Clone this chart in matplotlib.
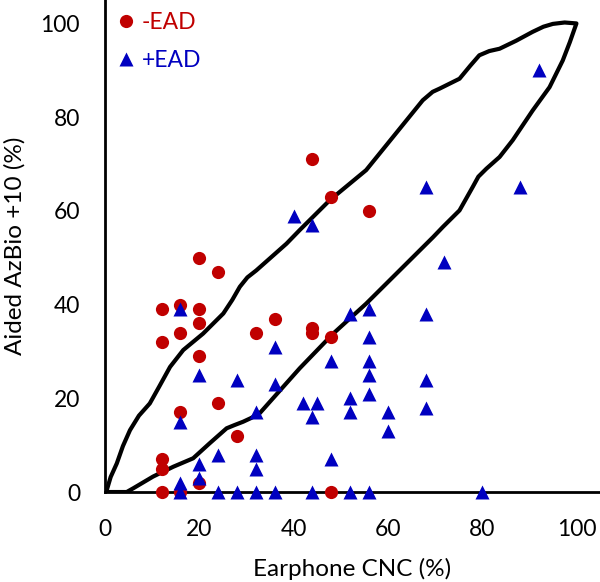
import matplotlib
matplotlib.use("Agg")
import matplotlib.pyplot as plt

plt.rcParams['font.family'] = ['Lato', 'DejaVu Sans']

# -EAD (red circles)
neg_x = [20, 24, 12, 16, 20, 20, 16, 12, 20, 32, 36, 44, 44, 48, 24, 16, 28, 12, 12, 20, 12, 16, 48, 44, 48, 56]
neg_y = [50, 47, 39, 40, 39, 36, 34, 32, 29, 34, 37, 35, 34, 33, 19, 17, 12, 7, 5, 2, 0, 0, 0, 71, 63, 60]

# +EAD (blue triangles)
pos_x = [40, 44, 92, 68, 88, 72, 16, 36, 48, 20, 28, 36, 42, 45, 44, 32, 16, 24, 32, 32, 20, 48, 20, 16,
         16, 24, 28, 32, 36, 44, 52, 56, 80, 52, 56, 68, 56, 56, 56, 68, 56, 52, 52, 60, 68, 60]
pos_y = [59, 57, 90, 65, 65, 49, 39, 31, 28, 25, 24, 23, 19, 19, 16, 17, 15, 8, 8, 5, 6, 7, 3, 2,
         0, 0, 0, 0, 0, 0, 0, 0, 0, 38, 39, 38, 33, 28, 25, 24, 21, 20, 17, 17, 18, 13]

# Boundary (closed loop): upper edge then lower edge
bound_x = [0, 0.4, 1.2, 2.5, 3.8, 5.3, 7.2, 9.5, 11.5, 13.8, 16.6, 20.8, 25.1, 27.0, 28.6, 30.2, 32.1,
           38.5, 41.3, 47.7, 55.4, 67.4, 69.5, 71.0,
           75.2, 77.5, 79.4, 81.5, 83.7, 87.2, 90.7, 93.0, 95.0, 97.5, 100,
           98.6, 97.1, 94.3, 90.7, 86.5, 83.7, 80.9, 79.2, 78.0, 75.2, 71.7, 69.6, 62.5, 55.4, 48.4,
           41.3, 32.8, 31.0, 29.3, 27.5, 25.8, 22.2, 18.7, 14.5, 10.2, 6.0, 4.6, 0]
bound_y = [0, 0.5, 3.2, 6.1, 9.8, 13.2, 16.3, 18.9, 22.5, 26.7, 30.3, 33.8, 38.1, 41.0, 43.8, 45.8, 47.3,
           53.0, 55.9, 62.3, 68.7, 83.6, 85.4, 86.1,
           88.2, 91.0, 93.2, 94.1, 94.6, 96.3, 98.2, 99.3, 99.9, 100.2, 100,
           96.0, 92.1, 86.4, 81.4, 75.1, 71.5, 69.0, 67.3, 65.1, 60.1, 56.6, 54.4, 47.3, 40.2, 33.8,
           26.4, 16.8, 15.8, 15.0, 14.3, 13.6, 10.4, 7.2, 5.4, 3.3, 0.8, 0, 0]

x_ticks = [0, 20, 40, 60, 80, 100]
y_ticks = [0, 20, 40, 60, 80, 100]

red = '#C00000'
blue = '#0000C0'

fig = plt.figure(figsize=(6.0, 5.82), dpi=100)
ax = fig.add_axes([0.175, 0.1546, 0.825, 0.8454])

ax.plot(bound_x, bound_y, color='black', lw=3, solid_joinstyle='round', solid_capstyle='round', zorder=2)
ax.plot(neg_x, neg_y, 'o', color=red, ms=9.5, mec='none', label='-EAD', zorder=3, clip_on=False)
ax.plot(pos_x, pos_y, '^', color=blue, ms=9.5, mec='none', label='+EAD', zorder=4, clip_on=False)

ax.set_xlim(0, 105)
ax.set_ylim(0, 105)
ax.set_xticks(x_ticks)
ax.set_yticks(y_ticks)
ax.tick_params(axis='y', length=0, labelsize=16.5, pad=18)
ax.tick_params(axis='x', length=0, labelsize=16.5, pad=19.5)
for s in ['top', 'right']:
    ax.spines[s].set_visible(False)
for s in ['left', 'bottom']:
    ax.spines[s].set_linewidth(2)
    ax.spines[s].set_color('black')
ax.set_xlabel('Earphone CNC (%)', fontsize=17.5, labelpad=13)
ax.set_ylabel('Aided AzBio +10 (%)', fontsize=17.5, labelpad=10.5)

leg = ax.legend(loc='upper left', frameon=False, fontsize=16.5, handletextpad=0.2,
                handlelength=1.0, borderaxespad=0.0, labelspacing=0.75,
                bbox_to_anchor=(0.0, 0.995))
for t, c in zip(leg.get_texts(), [red, blue]):
    t.set_color(c)

fig.savefig('out.png', dpi=100)
